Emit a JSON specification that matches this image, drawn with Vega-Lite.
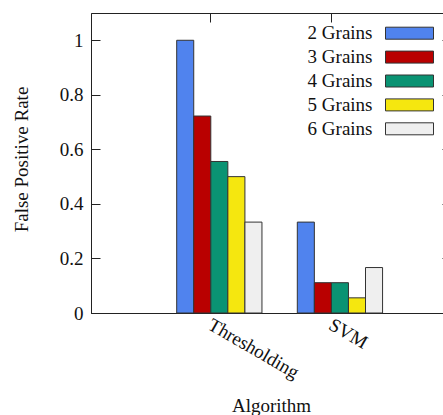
{
  "$schema": "https://vega.github.io/schema/vega-lite/v6.json",
  "width": 360,
  "height": 300,
  "autosize": {"type": "none"},
  "padding": {"left": 91, "top": 13, "right": 0, "bottom": 102},
  "background": "white",
  "config": {
    "font": "Liberation Serif",
    "view": {"stroke": "#222", "strokeWidth": 1},
    "axis": {
      "domainColor": "#222",
      "tickColor": "#222",
      "labelColor": "#111",
      "titleColor": "#111",
      "labelFont": "Liberation Serif",
      "titleFont": "Liberation Serif",
      "labelFontSize": 19,
      "titleFontSize": 19,
      "titleFontWeight": "normal",
      "grid": false
    }
  },
  "data": {
    "values": [
      {"algorithm": "Thresholding", "grains": "2 Grains", "rate": 1.0},
      {"algorithm": "Thresholding", "grains": "3 Grains", "rate": 0.7222},
      {"algorithm": "Thresholding", "grains": "4 Grains", "rate": 0.5556},
      {"algorithm": "Thresholding", "grains": "5 Grains", "rate": 0.5},
      {"algorithm": "Thresholding", "grains": "6 Grains", "rate": 0.3333},
      {"algorithm": "SVM", "grains": "2 Grains", "rate": 0.3333},
      {"algorithm": "SVM", "grains": "3 Grains", "rate": 0.1111},
      {"algorithm": "SVM", "grains": "4 Grains", "rate": 0.1111},
      {"algorithm": "SVM", "grains": "5 Grains", "rate": 0.0556},
      {"algorithm": "SVM", "grains": "6 Grains", "rate": 0.1667}
    ]
  },
  "layer": [
    {
      "mark": {"type": "bar", "stroke": "#333", "strokeWidth": 1},
      "encoding": {
        "x": {
          "field": "algorithm",
          "type": "nominal",
          "sort": ["Thresholding", "SVM"],
          "scale": {"paddingInner": 0.293, "paddingOuter": 0.639, "align": 0.556},
          "axis": {
            "orient": "bottom",
            "title": "Algorithm",
            "labelAngle": 30,
            "labelAlign": "left",
            "labelBaseline": "top",
            "labelOffset": -5,
            "labelPadding": 2,
            "ticks": false,
            "labelOverlap": false,
            "titleY": 98,
            "titleBaseline": "alphabetic"
          }
        },
        "xOffset": {
          "field": "grains",
          "type": "nominal",
          "sort": ["2 Grains", "3 Grains", "4 Grains", "5 Grains", "6 Grains"]
        },
        "y": {
          "field": "rate",
          "type": "quantitative",
          "scale": {"domain": [0, 1.1], "nice": false},
          "axis": {
            "title": "False Positive Rate",
            "values": [0, 0.2, 0.4, 0.6, 0.8, 1],
            "format": "~g",
            "tickSize": -9,
            "labelPadding": 17,
            "titleX": -64,
            "titleY": 146,
            "titleAngle": -90,
            "titleBaseline": "alphabetic"
          }
        },
        "color": {
          "field": "grains",
          "type": "nominal",
          "scale": {
            "domain": ["2 Grains", "3 Grains", "4 Grains", "5 Grains", "6 Grains"],
            "range": ["#5083ee", "#b90000", "#0a9373", "#f5e70f", "#efefef"]
          },
          "legend": {
            "title": null,
            "orient": "none",
            "legendX": 309,
            "legendY": 10.7,
            "padding": 0,
            "symbolType": "M-4,-1H4V1H-4Z",
            "symbolSize": 144,
            "symbolStrokeColor": "#333",
            "symbolStrokeWidth": 1,
            "symbolOpacity": 1,
            "labelAlign": "right",
            "labelOffset": -46.5,
            "labelFont": "Liberation Serif",
            "labelFontSize": 19,
            "labelColor": "#111",
            "rowPadding": 3.9
          }
        }
      }
    },
    {
      "mark": {"type": "bar", "opacity": 0},
      "encoding": {
        "x": {
          "field": "algorithm",
          "type": "nominal",
          "sort": ["Thresholding", "SVM"],
          "axis": {"orient": "top", "title": null, "labels": false, "tickSize": -9, "tickOffset": -9, "domain": false}
        },
        "y": {
          "field": "rate",
          "type": "quantitative",
          "axis": {"orient": "right", "title": null, "labels": false, "tickSize": -9, "values": [0, 0.2, 0.4, 0.6, 0.8, 1], "domain": false}
        }
      }
    }
  ],
  "resolve": {"axis": {"x": "independent", "y": "independent"}}
}
